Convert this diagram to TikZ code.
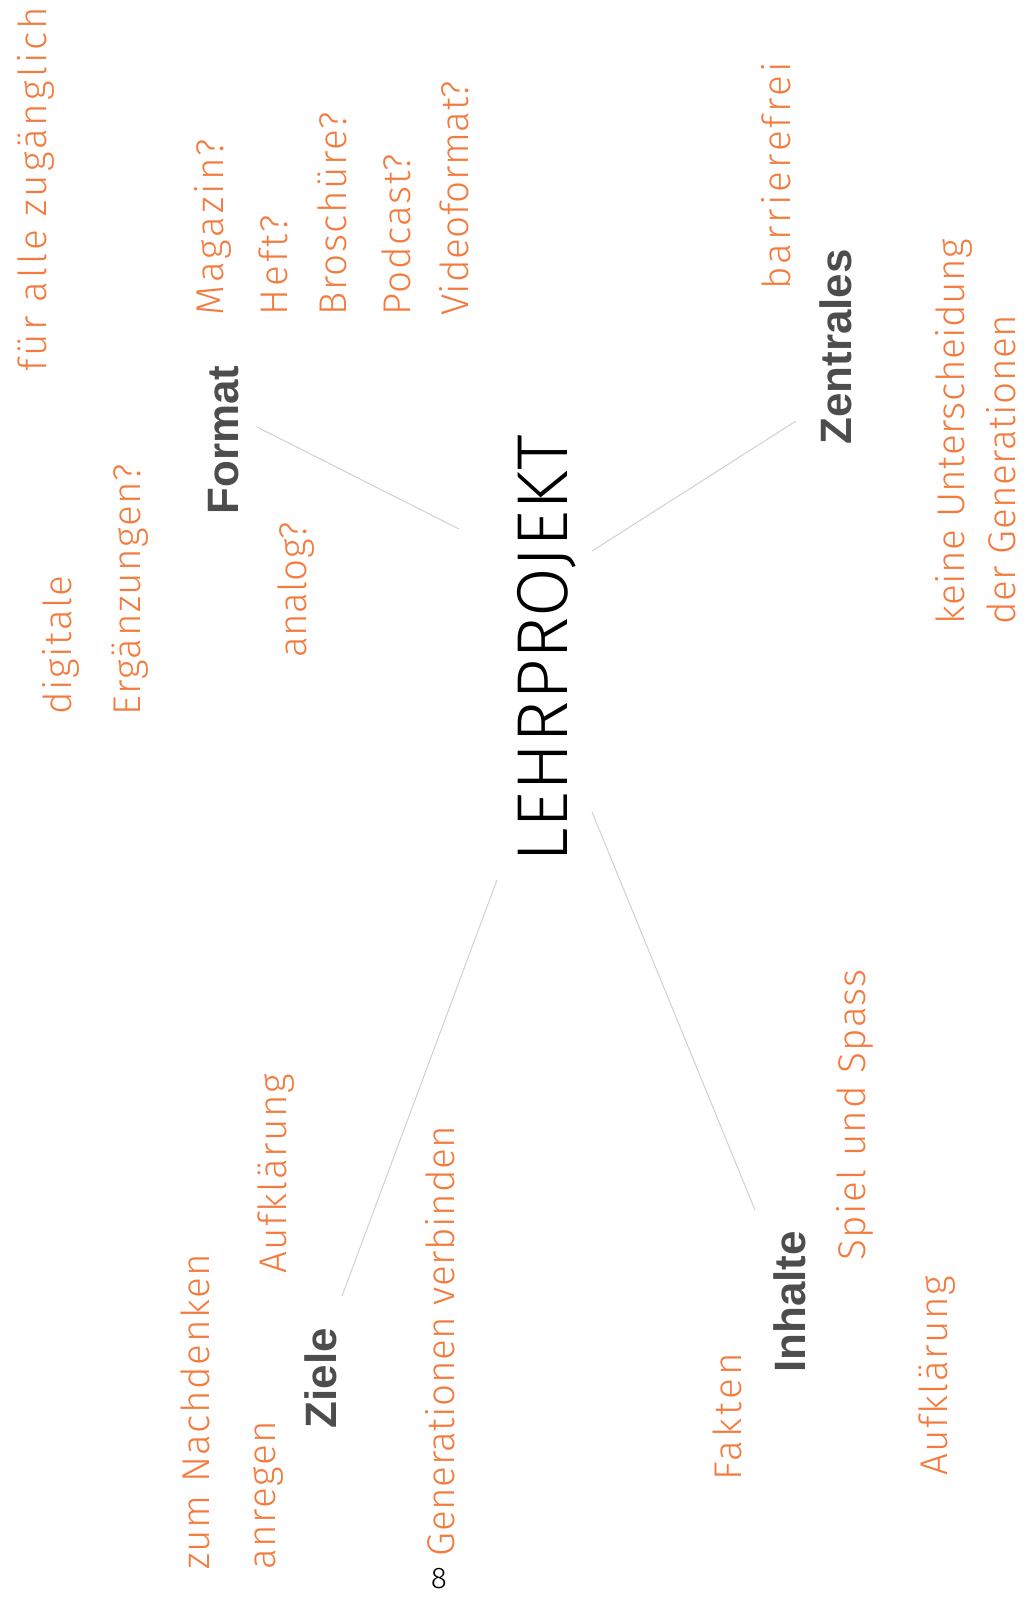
\documentclass[tikz,border=0pt]{standalone}
\usepackage{fontspec}
\setmainfont{Liberation Sans}
\newfontfamily\thinfont{Fira Sans Light}
\newfontfamily\handfont[LetterSpace=4]{Fira Sans Light}
\newfontfamily\tighthand[LetterSpace=1.5]{Fira Sans Light}
\newfontfamily\loosehand[LetterSpace=8]{Fira Sans Light}
\usetikzlibrary{positioning,calc}
\definecolor{note}{HTML}{F37B3E}
\definecolor{slate}{HTML}{4D4D4D}
\tikzset{
  title/.style={rotate=90, inner sep=0pt, text=black, font=\thinfont\fontsize{41}{46}\selectfont},
  branch/.style={rotate=90, inner sep=0pt, text=slate, font=\bfseries\fontsize{25}{30}\selectfont},
  idea/.style={rotate=90, inner sep=0pt, text=note, font=\handfont\fontsize{22}{26}\selectfont},
  ideaTight/.style={idea, font=\tighthand\fontsize{22}{26}\selectfont},
  ideaLoose/.style={idea, font=\loosehand\fontsize{22}{26}\selectfont},
  spoke/.style={gray!35, line width=0.6pt}
}

\begin{document}
\begin{tikzpicture}[x=0.02cm, y=-0.02cm]
    \useasboundingbox (0,0) rectangle (1033,1600);

    % Centre
    \node[title] (lehr) at (547,649) {LEHRPROJEKT};

    % Branches
    \node[branch] (format) at (224,440) {Format};
    \node[branch] (zentral) at (836,347) {Zentrales};
    \node[branch] (ziele) at (321,1378) {Ziele};
    \node[branch] (inhalte) at (790,1302) {Inhalte};

    % Spokes
    \draw[spoke] ([shift={(33,-13)}]format.center) -- ([shift={(-88,-120)}]lehr.center);
    \draw[spoke] ([shift={(-40,74)}]zentral.center) -- ([shift={(45,-98)}]lehr.center);
    \draw[spoke] ([shift={(21,-82)}]ziele.center) -- ([shift={(-50,231)}]lehr.center);
    \draw[spoke] ([shift={(-35,-92)}]inhalte.center) -- ([shift={(45,163)}]lehr.center);

    % Format notes
    \node[ideaLoose] (alle) at (36,189) {für alle zugänglich};
    \node[idea] (digital) at (61,645) {digitale};
    \node[idea] (ergaenz) at (130,590) {Ergänzungen?};
    \node[ideaTight] (analog) at (296,590) {analog?};
    \foreach \name/\x/\txt/\look in {mag/213/Magazin?/ideaLoose, heft/273/Heft?/ideaLoose,
                                     brosch/332/Broschüre?/idea, podcast/396/Podcast?/idea,
                                     video/454/Videoformat?/ideaTight} {
        \node[\look, anchor=west] (\name) at (\x,316) {\txt};
    }

    % Zentrales notes
    \node[ideaLoose, anchor=west] (barriere) at (776,290) {barrierefrei};
    \node[ideaTight, anchor=west] (keine) at (954,625) {keine Unterscheidung};
    \node[ideaTight, anchor=west] (generat) at (1001,625) {der Generationen};

    % Ziele notes
    \node[idea, anchor=west] (nachdenk) at (195,1570) {zum Nachdenken};
    \node[idea, anchor=west] (anregen) at (268,1570) {anregen};
    \node[idea] (zielAufkl) at (276,1174) {Aufklärung};
    \node[ideaTight] (verbind) at (440,1341) {Generationen verbinden};

    % Inhalte notes
    \node[idea] (spiel) at (855,1115) {Spiel und Spass};
    \node[ideaLoose] (fakten) at (727,1417) {Fakten};
    \node[idea] (inhAufkl) at (937,1376) {Aufklärung};

    % Page number
    \node[font=\thinfont\fontsize{17}{20}\selectfont, inner sep=0pt] (page) at (439,1579) {8};
\end{tikzpicture}
\end{document}
